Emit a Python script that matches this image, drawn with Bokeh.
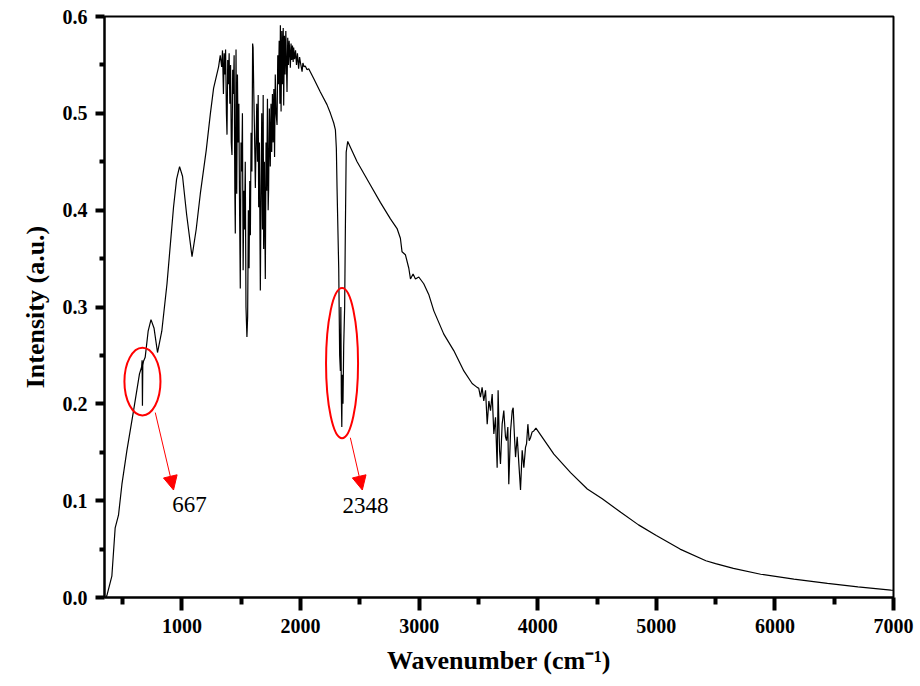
from bokeh.plotting import figure
from bokeh.models import Range1d, FixedTicker, NumeralTickFormatter, Arrow, NormalHead
from bokeh.core.properties import value
from bokeh.embed import file_html
from bokeh.resources import INLINE

# ---- spectrum (wavenumber cm^-1, intensity a.u.) ----
rise_wn = [360, 367, 409, 437, 465, 494, 536, 592, 642, 660, 664, 667, 670, 676, 690, 715, 739,
           765, 794, 830, 874, 929, 955, 980, 1005, 1040, 1085, 1120, 1155, 1205, 1240, 1267, 1309]
rise_int = [0.000, 0.002, 0.022, 0.072, 0.085, 0.117, 0.152, 0.193, 0.231, 0.238, 0.245, 0.198,
            0.240, 0.244, 0.248, 0.275, 0.287, 0.278, 0.253, 0.275, 0.324, 0.403, 0.432, 0.445,
            0.435, 0.395, 0.352, 0.380, 0.417, 0.462, 0.500, 0.526, 0.548]

water_wn = [1323, 1335, 1342, 1350, 1356, 1363, 1368, 1375, 1380, 1386, 1392, 1398, 1404, 1410,
            1416, 1422, 1428, 1434, 1440, 1446, 1450, 1456, 1462, 1468, 1474, 1480, 1486, 1492,
            1498, 1504, 1510, 1516, 1522, 1528, 1534, 1540, 1548, 1554, 1560, 1566, 1572, 1577,
            1583, 1590, 1596, 1600, 1606, 1612, 1619, 1625, 1631, 1637, 1643, 1647, 1653, 1661,
            1667, 1673, 1679, 1685, 1689, 1695, 1703, 1709, 1715, 1721, 1727, 1731, 1737, 1745,
            1751, 1757, 1763, 1769, 1775, 1781, 1787, 1794, 1802, 1808, 1814, 1820, 1826, 1830,
            1836, 1842, 1848, 1854, 1858, 1864, 1870, 1876, 1882, 1886, 1892, 1898, 1904, 1910,
            1914, 1920, 1926, 1932, 1938, 1942, 1950, 1958, 1966, 1974, 1984, 1992, 2000, 2013,
            2020, 2030, 2040, 2055]
water_int = [0.560, 0.548, 0.565, 0.520, 0.562, 0.540, 0.566, 0.500, 0.478, 0.555, 0.530, 0.562,
             0.510, 0.550, 0.470, 0.457, 0.545, 0.520, 0.560, 0.420, 0.376, 0.566, 0.417, 0.540,
             0.470, 0.510, 0.400, 0.319, 0.470, 0.440, 0.500, 0.338, 0.420, 0.380, 0.450, 0.300,
             0.269, 0.290, 0.400, 0.340, 0.430, 0.374, 0.480, 0.440, 0.572, 0.568, 0.520, 0.480,
             0.423, 0.470, 0.510, 0.450, 0.519, 0.403, 0.470, 0.317, 0.420, 0.500, 0.380, 0.519,
             0.360, 0.450, 0.329, 0.470, 0.420, 0.515, 0.400, 0.422, 0.505, 0.445, 0.510, 0.460,
             0.520, 0.470, 0.525, 0.455, 0.540, 0.500, 0.488, 0.560, 0.530, 0.575, 0.510, 0.591,
             0.502, 0.585, 0.530, 0.588, 0.508, 0.580, 0.540, 0.585, 0.545, 0.522, 0.578, 0.550,
             0.575, 0.560, 0.547, 0.572, 0.555, 0.570, 0.553, 0.568, 0.556, 0.565, 0.550, 0.562,
             0.546, 0.558, 0.552, 0.543, 0.552, 0.548, 0.549, 0.545]

co2_wn = [2069, 2111, 2167, 2223, 2252, 2280, 2294, 2302, 2308, 2322, 2330, 2336, 2340, 2344,
          2348, 2352, 2358, 2364, 2372, 2378, 2385, 2398, 2477, 2589, 2673, 2758, 2814, 2842,
          2856, 2884, 2913, 2927, 2949, 2969, 2997, 3039, 3081]
co2_int = [0.546, 0.536, 0.522, 0.509, 0.500, 0.490, 0.483, 0.464, 0.422, 0.340, 0.250, 0.234,
           0.300, 0.210, 0.176, 0.230, 0.200, 0.260, 0.300, 0.380, 0.460, 0.471, 0.450, 0.426,
           0.408, 0.391, 0.381, 0.371, 0.357, 0.354, 0.340, 0.329, 0.334, 0.329, 0.331, 0.324,
           0.313]

oh_wn = [3124, 3208, 3292, 3377, 3447, 3489, 3503, 3517, 3531, 3545, 3560, 3574, 3588, 3602,
         3616, 3630, 3644, 3658, 3666, 3678, 3686, 3700, 3714, 3728, 3737, 3748, 3756, 3771,
         3785, 3793, 3804, 3813, 3827, 3841, 3855, 3869, 3883, 3897, 3906, 3917, 3928, 3939,
         3953, 3967, 3985]
oh_int = [0.296, 0.272, 0.255, 0.234, 0.221, 0.217, 0.216, 0.207, 0.217, 0.203, 0.214, 0.179,
          0.203, 0.193, 0.210, 0.169, 0.186, 0.134, 0.214, 0.152, 0.138, 0.179, 0.193, 0.166,
          0.162, 0.176, 0.117, 0.172, 0.193, 0.196, 0.166, 0.145, 0.166, 0.138, 0.111, 0.152,
          0.134, 0.155, 0.159, 0.179, 0.162, 0.165, 0.171, 0.172, 0.175]

tail_wn = [4136, 4277, 4418, 4544, 4700, 4850, 5000, 5200, 5418, 5500, 5650, 5880, 6160, 6443,
           6700, 6978, 7000]
tail_int = [0.148, 0.129, 0.112, 0.102, 0.088, 0.075, 0.064, 0.050, 0.038, 0.035, 0.030, 0.024,
            0.019, 0.0145, 0.011, 0.0077, 0.0075]

x_ticks = [1000, 2000, 3000, 4000, 5000, 6000, 7000]
x_minor = [500, 1500, 2500, 3500, 4500, 5500, 6500]
y_ticks = [0.0, 0.1, 0.2, 0.3, 0.4, 0.5, 0.6]
y_minor = [0.05, 0.15, 0.25, 0.35, 0.45, 0.55]

# ---- annotations (CO2 bands) ----
band_labels = ["667", "2348"]
ell_x = [667, 2350]
ell_y = [0.223, 0.242]
ell_w = [304, 270]
ell_h = [0.070, 0.155]
arrow_x0 = [775, 2420]
arrow_y0 = [0.191, 0.165]
arrow_x1 = [929, 2521]
arrow_y1 = [0.111, 0.111]
lab_x = [918, 2353]
lab_y = [0.096, 0.095]

wn = rise_wn + water_wn + co2_wn + oh_wn + tail_wn
inten = rise_int + water_int + co2_int + oh_int + tail_int

FONT = "Liberation Serif"

p = figure(width=920, height=686, output_backend="svg", toolbar_location=None,
           x_range=Range1d(347, 7000), y_range=Range1d(0, 0.6),
           min_border_left=104, min_border_right=27, min_border_top=16, min_border_bottom=89)

p.line(wn, inten, line_color="black", line_width=1.2)

p.ellipse(x=ell_x, y=ell_y, width=ell_w, height=ell_h, fill_alpha=0,
          line_color="#ff0000", line_width=2, level="overlay")

for i in range(len(band_labels)):
    p.add_layout(Arrow(end=NormalHead(size=14, fill_color="#ff0000", line_color="#ff0000"),
                       x_start=arrow_x0[i], y_start=arrow_y0[i],
                       x_end=arrow_x1[i], y_end=arrow_y1[i],
                       line_color="#ff0000", line_width=1, level="overlay"))

p.text(x=lab_x, y=lab_y, text=band_labels, text_font=value(FONT), text_font_size="23px",
       text_baseline="middle", text_align="left", text_color="black", level="overlay")

p.xgrid.visible = False
p.ygrid.visible = False
p.outline_line_color = "black"
p.outline_line_width = 2

p.xaxis.ticker = FixedTicker(ticks=x_ticks, minor_ticks=x_minor)
p.yaxis.ticker = FixedTicker(ticks=y_ticks, minor_ticks=y_minor)
p.xaxis.formatter = NumeralTickFormatter(format="0")
p.yaxis.formatter = NumeralTickFormatter(format="0.0")

for ax in (p.xaxis, p.yaxis):
    ax.axis_line_width = 2
    ax.axis_line_color = "black"
    ax.major_tick_line_color = "black"
    ax.minor_tick_line_color = "black"
    ax.major_tick_line_width = 4
    ax.minor_tick_line_width = 4
    ax.major_tick_in = 0
    ax.minor_tick_in = 0
    ax.major_label_text_font = FONT
    ax.major_label_text_font_style = "bold"
    ax.major_label_text_font_size = "20px"
    ax.major_label_text_color = "black"
    ax.axis_label_text_font = FONT
    ax.axis_label_text_font_style = "bold"
    ax.axis_label_text_font_size = "26px"
    ax.axis_label_text_color = "black"
    ax.major_label_standoff = 8
    ax.axis_label_standoff = 10

p.xaxis.major_tick_out = 13
p.xaxis.minor_tick_out = 7
p.yaxis.major_tick_out = 9
p.yaxis.minor_tick_out = 5
p.xaxis.axis_label = "Wavenumber (cm\u207b\u00b9)"
p.yaxis.axis_label = "Intensity (a.u.)"

open("out.html", "w").write(file_html(p, INLINE))
